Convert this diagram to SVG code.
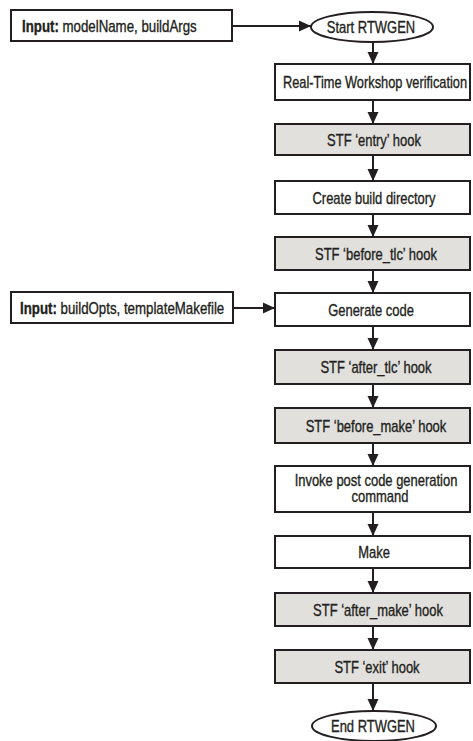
<svg xmlns="http://www.w3.org/2000/svg" width="473" height="741" viewBox="0 0 473 741">
  <style>
    .box { fill: #ffffff; stroke: #231f20; stroke-width: 2; }
    .hook { fill: #e1e0dd; stroke: #231f20; stroke-width: 2; }
    .term { fill: #ffffff; stroke: #231f20; stroke-width: 2; }
    text { font-family: "Liberation Sans", Arial, sans-serif; font-size: 16px; fill: #231f20; stroke: #231f20; stroke-width: 0.35; }
    .lbl { text-anchor: middle; }
    .b { font-weight: bold; }
    .conn line { stroke: #231f20; stroke-width: 2; marker-end: url(#arrow); }
  </style>
  <defs>
    <marker id="arrow" markerUnits="userSpaceOnUse" markerWidth="12" markerHeight="12" viewBox="0 0 12 12" refX="12" refY="6" orient="auto">
      <path d="M0,0.5 L12,6 L0,11.5 Z" fill="#231f20"/>
    </marker>
  </defs>
  <rect width="473" height="741" fill="#ffffff"/>

  <!-- connectors -->
  <g id="connectors" class="conn">
    <line x1="232" y1="26" x2="311" y2="26"/>
    <line x1="233" y1="308" x2="275" y2="308"/>
    <line x1="373" y1="42" x2="373" y2="64"/>
    <line x1="373" y1="100" x2="373" y2="124"/>
    <line x1="373" y1="155" x2="373" y2="181"/>
    <line x1="373" y1="214" x2="373" y2="237"/>
    <line x1="373" y1="270" x2="373" y2="293"/>
    <line x1="373" y1="326" x2="373" y2="350"/>
    <line x1="373" y1="384" x2="373" y2="408"/>
    <line x1="373" y1="443" x2="373" y2="466"/>
    <line x1="373" y1="512" x2="373" y2="536"/>
    <line x1="373" y1="568" x2="373" y2="593"/>
    <line x1="373" y1="626" x2="373" y2="650"/>
    <line x1="373" y1="683" x2="373" y2="711"/>
  </g>

  <!-- inputs (labels drawn narrow with a horizontal scale) -->
  <g id="input-model">
    <rect class="box" x="11" y="10" width="221" height="31"/>
    <text transform="translate(22,32) scale(0.83,1)"><tspan class="b">Input:</tspan> modelName, buildArgs</text>
  </g>
  <g id="input-opts">
    <rect class="box" x="11" y="292" width="222" height="31"/>
    <text transform="translate(20,314) scale(0.83,1)"><tspan class="b">Input:</tspan> buildOpts, templateMakefile</text>
  </g>

  <!-- flow -->
  <g id="start">
    <ellipse class="term" cx="372" cy="27" rx="61" ry="15"/>
    <text class="lbl" transform="translate(371,33) scale(0.81,1)">Start RTWGEN</text>
  </g>
  <g id="verify">
    <rect class="box" x="275" y="64" width="195" height="36"/>
    <text class="lbl" transform="translate(375,88) scale(0.8,1)">Real-Time Workshop verification</text>
  </g>
  <g id="entry-hook">
    <rect class="hook" x="275" y="124" width="195" height="31"/>
    <text class="lbl" transform="translate(374,146) scale(0.81,1)">STF ‘entry’ hook</text>
  </g>
  <g id="build-dir">
    <rect class="box" x="275" y="181" width="195" height="33"/>
    <text class="lbl" transform="translate(374,204) scale(0.81,1)">Create build directory</text>
  </g>
  <g id="before-tlc-hook">
    <rect class="hook" x="275" y="237" width="195" height="33"/>
    <text class="lbl" transform="translate(376,260) scale(0.81,1)">STF ‘before_tlc’ hook</text>
  </g>
  <g id="gen-code">
    <rect class="box" x="275" y="293" width="195" height="33"/>
    <text class="lbl" transform="translate(371,316) scale(0.81,1)">Generate code</text>
  </g>
  <g id="after-tlc-hook">
    <rect class="hook" x="275" y="350" width="195" height="34"/>
    <text class="lbl" transform="translate(376,373) scale(0.81,1)">STF ‘after_tlc’ hook</text>
  </g>
  <g id="before-make-hook">
    <rect class="hook" x="275" y="408" width="195" height="35"/>
    <text class="lbl" transform="translate(376,432) scale(0.81,1)">STF ‘before_make’ hook</text>
  </g>
  <g id="post-gen-cmd">
    <rect class="box" x="275" y="466" width="195" height="46"/>
    <text class="lbl" transform="translate(376,486) scale(0.81,1)">Invoke post code generation</text>
    <text class="lbl" transform="translate(380,502) scale(0.81,1)">command</text>
  </g>
  <g id="make">
    <rect class="box" x="275" y="536" width="195" height="32"/>
    <text class="lbl" transform="translate(374,558) scale(0.81,1)">Make</text>
  </g>
  <g id="after-make-hook">
    <rect class="hook" x="275" y="593" width="195" height="33"/>
    <text class="lbl" transform="translate(378,616) scale(0.81,1)">STF ‘after_make’ hook</text>
  </g>
  <g id="exit-hook">
    <rect class="hook" x="275" y="650" width="195" height="33"/>
    <text class="lbl" transform="translate(377,673) scale(0.81,1)">STF ‘exit’ hook</text>
  </g>
  <g id="end">
    <ellipse class="term" cx="374" cy="726" rx="62" ry="15"/>
    <text class="lbl" transform="translate(373,732) scale(0.81,1)">End RTWGEN</text>
  </g>
</svg>
